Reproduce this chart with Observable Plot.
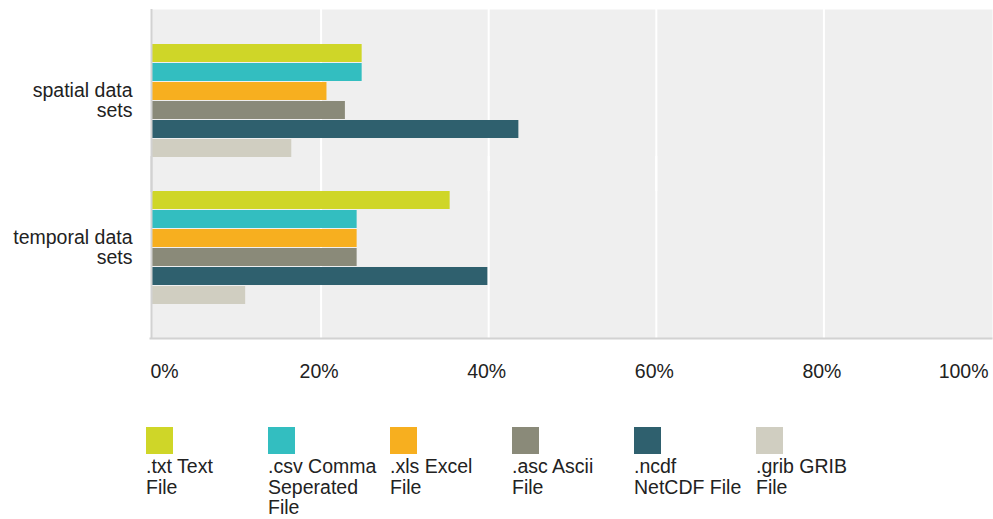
<!DOCTYPE html>
<html>
<head>
<meta charset="utf-8">
<script src="https://cdn.jsdelivr.net/npm/d3@7"></script>
<script src="https://cdn.jsdelivr.net/npm/@observablehq/plot@0.6"></script>
<style>
  html, body { margin: 0; padding: 0; background: #fff; }
  body { font-family: "Liberation Sans", Arial, Helvetica, sans-serif; color: #222; width: 993px; }
  #legend { display: flex; padding-left: 146px; padding-top: 27px; }
  .item { width: 122px; flex: none; }
  .chip { width: 27px; height: 27px; }
  .lbl { white-space: pre-line; font-size: 19.5px; line-height: 20.5px; margin-top: 2px; color: #222; }
</style>
</head>
<body>
<div id="chart"></div>
<div id="legend"></div>
<script>
const categories = ["spatial data sets", "temporal data sets"];
const categoryLabels = ["spatial data\nsets", "temporal data\nsets"];
const types = [".txt Text File", ".csv Comma Seperated File", ".xls Excel File", ".asc Ascii File", ".ncdf NetCDF File", ".grib GRIB File"];
const legendLabels = [".txt Text\nFile", ".csv Comma\nSeperated\nFile", ".xls Excel\nFile", ".asc Ascii\nFile", ".ncdf\nNetCDF File", ".grib GRIB\nFile"];
const spatialValues = [24.9, 24.9, 20.7, 22.9, 43.6, 16.5];
const temporalValues = [35.4, 24.3, 24.3, 24.3, 39.9, 11.0];
const xTicks = [0, 20, 40, 60, 80, 100];
const colors = ["#cfd628", "#33bec0", "#f7af1f", "#8a8a79", "#2f606e", "#d0cec1"];

const seriesByCategory = [spatialValues, temporalValues];
const data = categories.flatMap((c, ci) =>
  types.map((t, ti) => ({category: c, type: t, value: seriesByCategory[ci][ti]}))
);
const labelOf = new Map(categories.map((c, i) => [c, categoryLabels[i]]));
const fmt = d => d + "%";
const outer = 34; // gray plot area reaches beyond the outer bar groups
const tickText = {tickSize: 0, tickPadding: 26 + outer, fontSize: 19.5, fill: "#222", tickFormat: fmt, label: null};

const chart = Plot.plot({
  width: 993,
  height: 400,
  marginTop: 42,
  marginBottom: 95,
  marginLeft: 153,
  marginRight: 2,
  style: {fontFamily: "'Liberation Sans', Arial, Helvetica, sans-serif", fontSize: "19.5px", color: "#222", background: "#fff"},
  x: {domain: [0, 100]},
  y: {domain: types, axis: null, paddingInner: 0.06, paddingOuter: 0.03},
  fy: {domain: categories, axis: null, paddingInner: 0.222, paddingOuter: 0},
  color: {domain: types, range: colors},
  marks: [
    Plot.frame({fill: "#efefef", insetLeft: -2, insetRight: -1, insetTop: -outer, insetBottom: -outer, facet: "super"}),
    Plot.ruleX(xTicks.slice(1, -1), {x: d => d, stroke: "#ffffff", strokeWidth: 2, insetTop: -outer, insetBottom: -outer}),
    Plot.barX(data, {x: "value", y: "type", fy: "category", fill: "type", insetLeft: -1}),
    Plot.ruleX([0], {x: d => d, stroke: "#d2d2d2", strokeWidth: 2, dx: -2, insetTop: -outer, insetBottom: -outer - 1}),
    Plot.frame({anchor: "bottom", stroke: "#d2d2d2", strokeWidth: 2, insetLeft: -3, dy: outer, facet: "super"}),
    Plot.axisFy({anchor: "left", tickSize: 0, tickPadding: 21, fontSize: 19.5, lineHeight: 1.03, fill: "#222", tickFormat: d => labelOf.get(d), label: null}),
    Plot.axisX({...tickText, ticks: [xTicks[0]], textAnchor: "start", dx: -3}),
    Plot.axisX({...tickText, ticks: xTicks.slice(1, -1), textAnchor: "middle", dx: -2}),
    Plot.axisX({...tickText, ticks: [xTicks[xTicks.length - 1]], textAnchor: "end", dx: -3})
  ]
});
document.getElementById("chart").appendChild(chart);

const legend = document.getElementById("legend");
types.forEach((t, i) => {
  const item = document.createElement("div");
  item.className = "item";
  const chip = document.createElement("div");
  chip.className = "chip";
  chip.style.background = colors[i];
  const lbl = document.createElement("div");
  lbl.className = "lbl";
  lbl.textContent = legendLabels[i];
  item.appendChild(chip);
  item.appendChild(lbl);
  legend.appendChild(item);
});
</script>
</body>
</html>
